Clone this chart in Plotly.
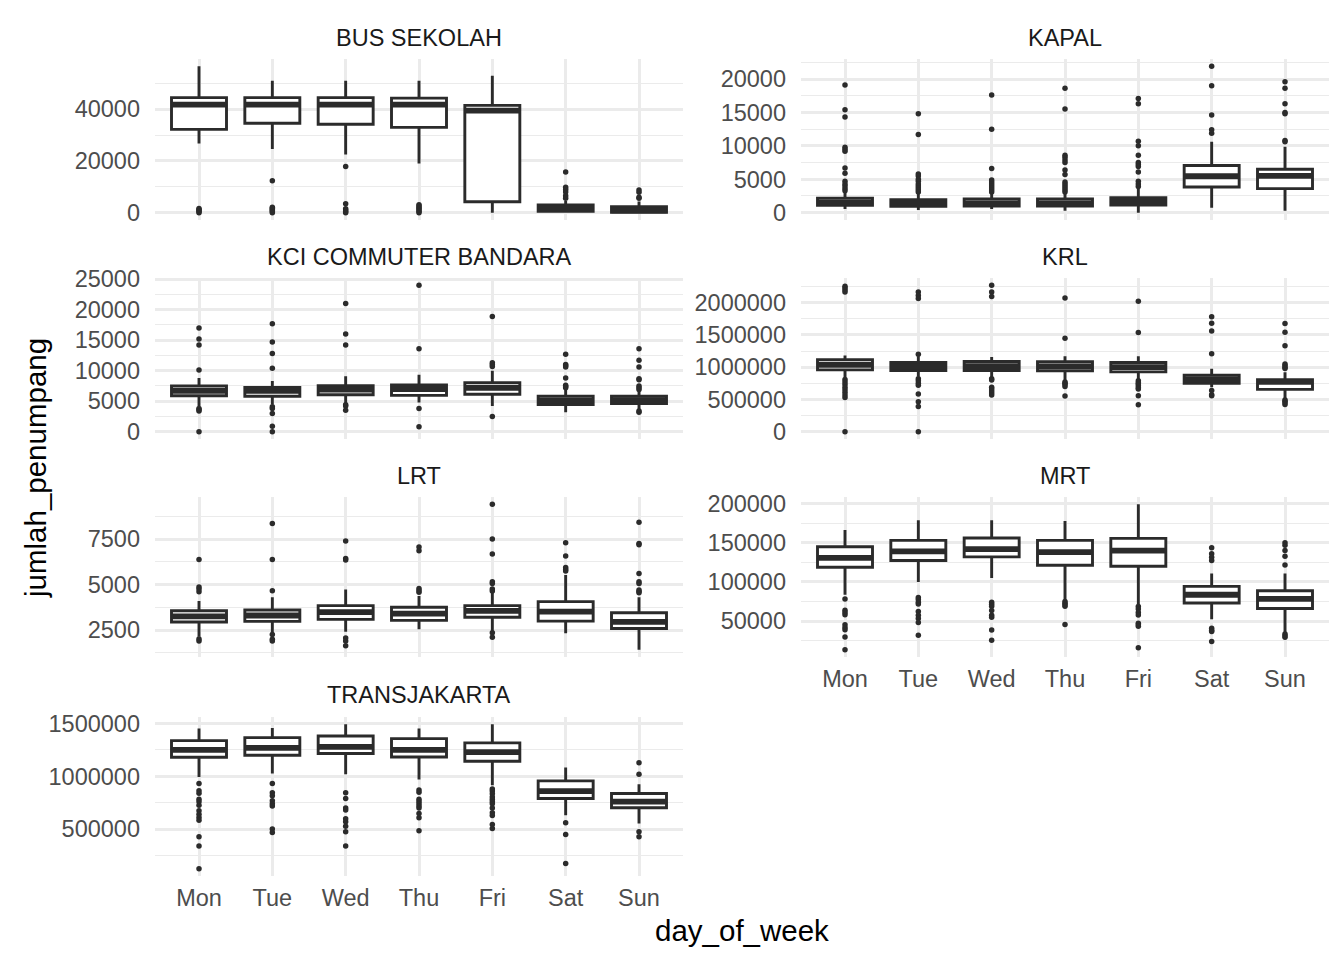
import plotly.graph_objects as go

DAYS = ["Mon", "Tue", "Wed", "Thu", "Fri", "Sat", "Sun"]
PANELS = ["BUS SEKOLAH", "KAPAL", "KCI COMMUTER BANDARA", "KRL", "LRT", "MRT", "TRANSJAKARTA"]

# BUS SEKOLAH
bus_q1 = [32200, 34600, 34200, 33000, 4200, 500, 100]
bus_med = [41800, 41800, 41800, 41800, 39500, 1700, 900]
bus_q3 = [44500, 44500, 44500, 44300, 41500, 3000, 2300]
bus_lo = [26800, 24600, 22500, 19000, 0, 0, 0]
bus_hi = [56600, 51000, 51000, 51000, 53000, 4500, 4300]
bus_out = [[0, 400, 800, 1200, 1600],
           [12300, 0, 400, 800, 1200, 1700, 2100],
           [17900, 3500, 0, 500, 1000, 1500],
           [0, 500, 1000, 1500, 2000, 2600, 3100],
           [],
           [15700, 9800, 9000, 8000, 6500, 5600],
           [8800, 7900, 6000, 5600]]

# KAPAL
kapal_q1 = [1100, 950, 1000, 1000, 1150, 3850, 3600]
kapal_med = [1500, 1300, 1400, 1400, 1600, 5450, 5500]
kapal_q3 = [2150, 1950, 2050, 2050, 2250, 7050, 6500]
kapal_lo = [550, 400, 550, 300, 0, 750, 300]
kapal_hi = [3000, 2800, 3000, 3000, 3600, 10600, 9850]
kapal_out = [[19100, 15400, 14300, 9800, 9500, 9200, 6700, 5900, 4700, 4300, 4000, 3600, 3300],
             [14800, 11700, 5800, 5500, 5000, 4700, 4300, 4000, 3700, 3400, 3100],
             [17600, 12500, 6600, 4900, 4600, 4300, 4000, 3700, 3400, 3100],
             [18600, 15500, 8600, 8300, 7900, 7500, 6400, 5700, 4600, 4300, 4000, 3700, 3400, 3100],
             [17100, 16300, 10700, 10000, 8600, 7500, 7200, 6900, 6100, 4700, 4300, 3900],
             [21900, 19000, 14600, 12400, 11900],
             [19600, 18600, 16300, 15000, 14800, 10800, 10600]]

# KCI COMMUTER BANDARA
kci_q1 = [5900, 5800, 6050, 5950, 6150, 4450, 4600]
kci_med = [6700, 6700, 6900, 7000, 7200, 5100, 5150]
kci_q3 = [7500, 7250, 7550, 7650, 8050, 5800, 5800]
kci_lo = [4200, 4450, 4700, 4800, 4200, 3200, 3600]
kci_hi = [8800, 8300, 9100, 9350, 10000, 7000, 6700]
kci_out = [[17000, 15200, 14200, 10100, 3800, 3600, 3400, 0],
           [17700, 14700, 12800, 10400, 4100, 3800, 3000, 900, 0],
           [21000, 16000, 14200, 4400, 4200, 3500],
           [24000, 13600, 3800, 800],
           [18900, 11300, 11000, 10700, 2500],
           [12700, 11000, 10800, 10600, 8800, 7600, 7400, 7200],
           [13600, 11700, 10600, 8700, 8500, 7500, 7200, 6900, 3400, 3200]]

# KRL
krl_q1 = [958000, 948000, 948000, 943000, 927000, 750000, 656000]
krl_med = [1036000, 1010000, 1016000, 1010000, 1000000, 812000, 771000]
krl_q3 = [1114000, 1073000, 1088000, 1083000, 1073000, 875000, 807000]
krl_lo = [840000, 850000, 844000, 800000, 802000, 687000, 520000]
krl_hi = [1182000, 1167000, 1156000, 1167000, 1167000, 974000, 922000]
krl_out = [[2255000, 2225000, 2195000, 2165000, 810000, 770000, 730000, 690000, 650000, 610000, 570000, 530000, 0],
           [2165000, 2110000, 2065000, 1198000, 820000, 790000, 750000, 720000, 583000, 463000, 390000, 0],
           [2268000, 2165000, 2094000, 820000, 800000, 690000, 660000, 630000, 600000, 570000],
           [2073000, 1448000, 770000, 750000, 730000, 700000, 552000],
           [2021000, 1536000, 790000, 760000, 740000, 710000, 680000, 660000, 557000, 417000],
           [1781000, 1682000, 1562000, 1208000, 640000, 573000, 557000],
           [1677000, 1542000, 1333000, 1047000, 1025000, 1000000, 980000, 490000, 470000, 450000, 420000]]

# LRT
lrt_q1 = [2940, 2980, 3090, 3030, 3200, 2990, 2590]
lrt_med = [3250, 3300, 3490, 3400, 3550, 3510, 2950]
lrt_q3 = [3560, 3600, 3840, 3750, 3840, 4060, 3450]
lrt_lo = [2130, 2320, 2410, 2540, 2410, 2320, 1420]
lrt_hi = [4090, 4300, 4730, 4370, 4610, 5520, 4300]
lrt_out = [[6380, 4860, 4750, 4600, 2010, 1900],
           [8360, 6380, 4660, 2260, 2000, 1900],
           [7390, 6430, 6350, 2060, 1900, 1640],
           [7060, 6860, 4790, 4680, 4580],
           [9410, 7500, 6680, 5160, 5060, 4750, 4650, 2350, 2100],
           [7300, 6570, 5930, 5830, 5740],
           [8420, 7250, 7180, 5610, 5160, 5060, 4700, 4620, 4550]]

# MRT
mrt_q1 = [118800, 127300, 132000, 121400, 120100, 73100, 66200]
mrt_med = [130800, 139000, 142000, 138000, 140000, 83700, 78500]
mrt_q3 = [144900, 153000, 156000, 153000, 155600, 94400, 88900]
mrt_lo = [83700, 100000, 105100, 77300, 70900, 52500, 36000]
mrt_hi = [166200, 178600, 178600, 177800, 199100, 110700, 110700]
mrt_out = [[78200, 64100, 61000, 58100, 45300, 42000, 39000, 29900, 13600],
           [80300, 77500, 74300, 72000, 62400, 57500, 53400, 48300, 32000],
           [74300, 71500, 69000, 63500, 57500, 55000, 38900, 25600],
           [75000, 73000, 71000, 69000, 45700],
           [68800, 65500, 61100, 58000, 47400, 45500, 43500, 16200],
           [143600, 135900, 131500, 127300, 41000, 38500, 36700, 24000],
           [150000, 147000, 140200, 132900, 121800, 33500, 31500, 29500]]

# TRANSJAKARTA
tj_q1 = [1181000, 1200000, 1216000, 1184000, 1143000, 790000, 702000]
tj_med = [1250000, 1270000, 1280000, 1250000, 1230000, 860000, 760000]
tj_q3 = [1339000, 1367000, 1383000, 1358000, 1317000, 957000, 837000]
tj_lo = [995000, 1027000, 1020000, 970000, 916000, 632000, 553000]
tj_hi = [1453000, 1459000, 1494000, 1453000, 1494000, 1083000, 926000]
tj_out = [[932000, 863000, 840000, 784000, 760000, 727000, 673000, 640000, 610000, 585000, 427000, 339000, 124000],
          [932000, 844000, 815000, 768000, 740000, 718000, 500000, 468000],
          [844000, 790000, 699000, 680000, 598000, 570000, 528000, 475000, 339000],
          [870000, 850000, 784000, 762000, 740000, 718000, 700000, 648000, 607000, 484000],
          [880000, 860000, 835000, 805000, 780000, 760000, 740000, 700000, 655000, 630000, 544000, 506000],
          [560000, 450000, 175000],
          [1128000, 1020000, 475000, 427000]]

stats = [
    (bus_q1, bus_med, bus_q3, bus_lo, bus_hi, bus_out, 20000),
    (kapal_q1, kapal_med, kapal_q3, kapal_lo, kapal_hi, kapal_out, 5000),
    (kci_q1, kci_med, kci_q3, kci_lo, kci_hi, kci_out, 5000),
    (krl_q1, krl_med, krl_q3, krl_lo, krl_hi, krl_out, 500000),
    (lrt_q1, lrt_med, lrt_q3, lrt_lo, lrt_hi, lrt_out, 2500),
    (mrt_q1, mrt_med, mrt_q3, mrt_lo, mrt_hi, mrt_out, 50000),
    (tj_q1, tj_med, tj_q3, tj_lo, tj_hi, tj_out, 500000),
]

DARK = "#2B2B2B"
GRID = "#EBEBEB"
FONT = "Liberation Sans, Arial, sans-serif"


# page pixels -> paper coords (the page body adds an 8px offset)
def px_x(x):
    return (x - 8) / 1344


def px_y(y):
    return 1 - (y - 8) / 960


x_dom = [[px_x(155), px_x(683)], [px_x(801), px_x(1329)]]
y_dom = [[px_y(220), px_y(59)], [px_y(439), px_y(278)], [px_y(657), px_y(497)], [px_y(876), px_y(717)]]
strip_y = [px_y(38), px_y(257), px_y(476), px_y(695)]

fig = go.Figure()
layout = dict(
    width=1344, height=960,
    margin=dict(l=0, r=0, t=0, b=0, autoexpand=False),
    paper_bgcolor="white", plot_bgcolor="white",
    showlegend=False, boxmode="overlay",
    font=dict(family=FONT),
)
annotations = []

for i, (name, (q1, med, q3, lo, hi, out, dt)) in enumerate(zip(PANELS, stats)):
    k = i + 1
    row, col = i // 2, i % 2
    xa = "x" if k == 1 else f"x{k}"
    ya = "y" if k == 1 else f"y{k}"

    fig.add_trace(go.Box(
        x=DAYS, q1=q1, median=med, q3=q3, lowerfence=lo, upperfence=hi,
        width=0.75, whiskerwidth=0, boxpoints=False,
        fillcolor="white", line=dict(color=DARK, width=2.9),
        xaxis=xa, yaxis=ya, hoverinfo="skip",
    ))
    # thicker median bar (ggplot fatten = 2)
    fig.add_trace(go.Box(
        x=DAYS, q1=med, median=med, q3=med, lowerfence=med, upperfence=med,
        width=0.75, whiskerwidth=0, boxpoints=False,
        fillcolor="rgba(0,0,0,0)", line=dict(color=DARK, width=5.8),
        xaxis=xa, yaxis=ya, hoverinfo="skip",
    ))
    ox, oy = [], []
    for d, vals in zip(DAYS, out):
        ox += [d] * len(vals)
        oy += vals
    fig.add_trace(go.Scatter(
        x=ox, y=oy, mode="markers",
        marker=dict(color=DARK, size=5.5),
        xaxis=xa, yaxis=ya, hoverinfo="skip",
    ))

    allv = lo + hi + oy
    vmin, vmax = min(allv), max(allv)
    pad = (vmax - vmin) * 0.05

    sx = "" if k == 1 else str(k)
    layout["xaxis" + sx] = dict(
        domain=x_dom[col], anchor=ya, type="category",
        categoryorder="array", categoryarray=DAYS, range=[-0.6, 6.6],
        showgrid=True, gridcolor=GRID, gridwidth=2.6,
        zeroline=False, showline=False, ticks="",
        showticklabels=(k in (6, 7)), ticklabelstandoff=5,
        tickfont=dict(size=23.5, color="#4D4D4D", family=FONT),
    )
    layout["yaxis" + sx] = dict(
        domain=y_dom[row], anchor=xa,
        range=[vmin - pad, vmax + pad],
        tick0=0, dtick=dt, tickformat="d",
        showgrid=True, gridcolor=GRID, gridwidth=2.6,
        minor=dict(tick0=0, dtick=dt / 2, showgrid=True, gridcolor=GRID, gridwidth=1.3),
        zeroline=False, showline=False, ticks="", ticklabelstandoff=14,
        tickfont=dict(size=23.5, color="#4D4D4D", family=FONT),
    )
    annotations.append(dict(
        text=name, xref="paper", yref="paper",
        x=sum(x_dom[col]) / 2, y=strip_y[row],
        xanchor="center", yanchor="middle", showarrow=False,
        font=dict(size=23.5, color="#1A1A1A", family=FONT),
    ))

annotations.append(dict(
    text="day_of_week", xref="paper", yref="paper",
    x=(x_dom[0][0] + x_dom[1][1]) / 2, y=px_y(930),
    xanchor="center", yanchor="middle", showarrow=False,
    font=dict(size=29.5, color="black", family=FONT),
))
annotations.append(dict(
    text="jumlah_penumpang", xref="paper", yref="paper",
    x=px_x(35), y=px_y(468), textangle=-90,
    xanchor="center", yanchor="middle", showarrow=False,
    font=dict(size=29.5, color="black", family=FONT),
))
layout["annotations"] = annotations
fig.update_layout(**layout)

fig.write_html("out.html")
